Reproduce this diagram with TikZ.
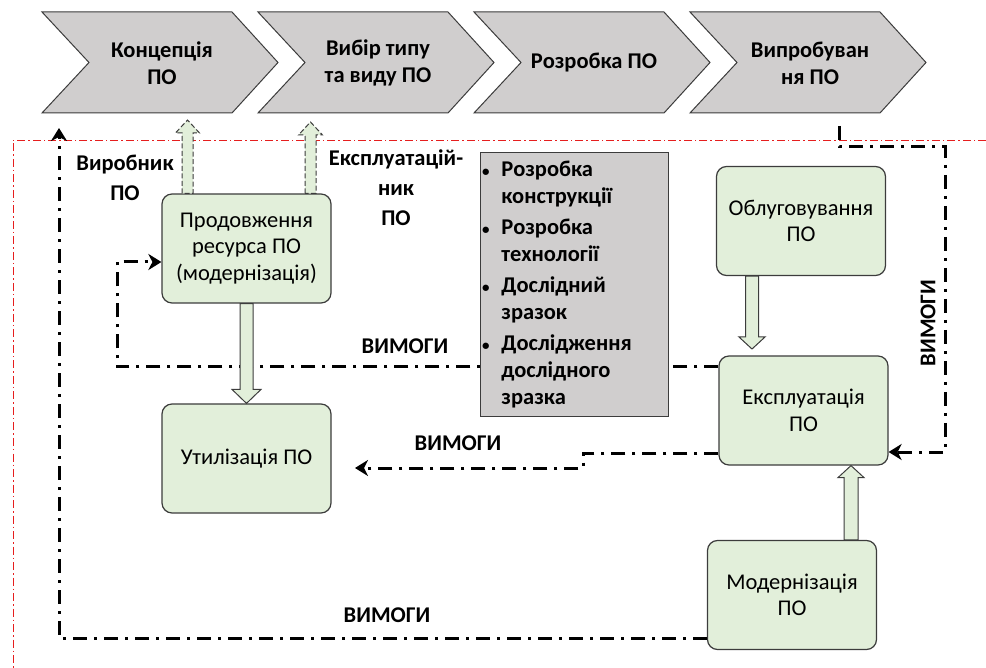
\documentclass[tikz,border=0pt]{standalone}
\usepackage{fontspec}
\setmainfont{Carlito}
\usetikzlibrary{calc,arrows.meta}
\definecolor{boxgreen}{RGB}{226,239,218}
\definecolor{chevgray}{RGB}{208,206,206}
\definecolor{edgegray}{RGB}{60,60,60}
\definecolor{framered}{RGB}{230,30,30}
\newcommand\blkarrow[6]{\path[#1] ($(#2)+(-#4,0)$) -- ($(#3)+(-#4,#6)$) -- ($(#3)+(-#5,#6)$) -- (#3) -- ($(#3)+(#5,#6)$) -- ($(#3)+(#4,#6)$) -- ($(#2)+(#4,0)$) -- cycle;}
\newcommand\smallbul{{\fontsize{15}{15}\selectfont\textbullet}}
\begin{document}
\begin{tikzpicture}[x=1pt,y=-1pt,
  chev/.style={fill=chevgray,draw=edgegray,line width=1pt},
  chevtext/.style={font=\bfseries\fontsize{22.5}{27}\selectfont,align=center,inner sep=0pt},
  gbox/.style={rectangle,rounded corners=10pt,fill=boxgreen,draw=edgegray,line width=1.2pt,
    minimum width=169pt,minimum height=109pt,align=center,font=\fontsize{22.5}{26.5}\selectfont,inner sep=2pt},
  graybox/.style={rectangle,fill=chevgray,draw=edgegray,line width=1pt,minimum height=264pt,
    text width=184pt,inner xsep=2pt,align=left,font=\bfseries\fontsize{22.5}{27}\selectfont},
  req/.style={draw=black,line width=3pt,dash pattern=on 14pt off 7pt on 3pt off 7pt},
  reqtip/.style={-{Stealth[length=13pt 0 0,width=16pt 0 0,inset=4pt]}},
  frame/.style={draw=framered,line width=0.9pt,dash pattern=on 8pt off 3pt on 1.5pt off 3pt},
  lbl/.style={font=\bfseries\fontsize{22.5}{27}\selectfont,align=center,inner sep=0pt},
  harrow/.style={fill=boxgreen,draw=edgegray,line width=1pt},
  harrowd/.style={harrow,dash pattern=on 5pt off 2.5pt}]
\useasboundingbox (0,0) rectangle (986,668);
% frame
\draw[frame] (986,140) -- (13,140) -- (13,668);
% chevrons
\foreach \i/\t in {0/{Концепція\\ПО},1/{Вибір типу\\та виду ПО},2/{Розробка ПО},3/{Випробуван\\ня ПО}}{
  \pgfmathsetmacro\L{42+216*\i}
  \draw[chev] (\L,12) -- ++(190,0) -- ++(46,50.5) -- ++(-46,50.5) -- ++(-190,0) -- ++(47,-50.5) -- cycle;
  \node[chevtext] (c\i) at (\L+120,63) {\t};
}
% boxes
\node[gbox] (p) at (246.5,248.5) {Продовження\\ресурса ПО\\(модернізація)};
\node[gbox] (u) at (246.5,458.5) {Утилізація ПО};
\node[gbox] (o) at (801,221) {Облуговування\\ПО};
\node[gbox] (e) at (803.5,410.5) {Експлуатація\\ПО};
\node[gbox] (m) at (792,595) {Модернізація\\ПО};
% requirement line to Продовження (behind the grey box)
\coordinate (a1) at (117,367);
\coordinate (a2) at (117,262);
\draw[req,reqtip] (e.west |- a1) -- (a1) -- (a2) -- (p.west |- a2);
% grey box
\node[graybox] (g) at (574,285) {\begin{tabular}{@{}l@{\hspace{12pt}}l@{}}
\smallbul & Розробка\\ & конструкції\\[4pt]
\smallbul & Розробка\\ & технології\\[4pt]
\smallbul & Дослідний\\ & зразок\\[4pt]
\smallbul & Дослідження\\ & дослідного\\ & зразка
\end{tabular}};
% line from Випробування to Експлуатація
\coordinate (b0) at (839,126);
\coordinate (b1) at (945,147);
\coordinate (b2) at (945,452);
\draw[req,reqtip] (b0) |- (b1) -- (b2) -- (e.east |- b2);
% line from Експлуатація to Утилізація
\coordinate (k1) at (583,453);
\coordinate (k2) at (583,468);
\coordinate (kEnd) at (355,468);
\draw[req,reqtip] (e.west |- k1) -- (k1) -- (k2) -- (kEnd);
% line from Модернізація up to Концепція
\coordinate (d1) at (59,638);
\coordinate (dEnd) at (59,128);
\draw[req,reqtip] (m.west |- d1) -- (d1) -- (dEnd);
% hollow arrows
\coordinate (s1) at ([xshift=-59pt]p.north);
\coordinate (t1) at (187.5,120);
\coordinate (s2) at ([xshift=64pt]p.north);
\coordinate (t2) at (310.5,122);
\blkarrow{harrowd}{s1}{t1}{5.5}{12}{13}
\blkarrow{harrowd}{s2}{t2}{5.5}{12}{13}
\blkarrow{harrow}{p.south}{u.north}{6.5}{14.5}{-14}
\coordinate (s3) at ([xshift=-49pt]o.south);
\coordinate (t3) at (752,349);
\blkarrow{harrow}{s3}{t3}{6.5}{13}{-12}
\coordinate (s4) at ([xshift=59pt]m.north);
\coordinate (t4) at (e.south -| s4);
\blkarrow{harrow}{s4}{t4}{7}{13}{12}
% labels
\node[lbl] (l1) at (125,178) {Виробник\\[3pt]ПО};
\node[lbl] (l2) at (396,188) {Експлуатацій-\\[3pt]ник\\[3pt]ПО};
\node[lbl] (v1) at (405,346) {ВИМОГИ};
\node[lbl] (v2) at (458,443) {ВИМОГИ};
\node[lbl] (v3) at (387,615) {ВИМОГИ};
\node[lbl,rotate=90] (v4) at (928,323) {ВИМОГИ};
\end{tikzpicture}
\end{document}
